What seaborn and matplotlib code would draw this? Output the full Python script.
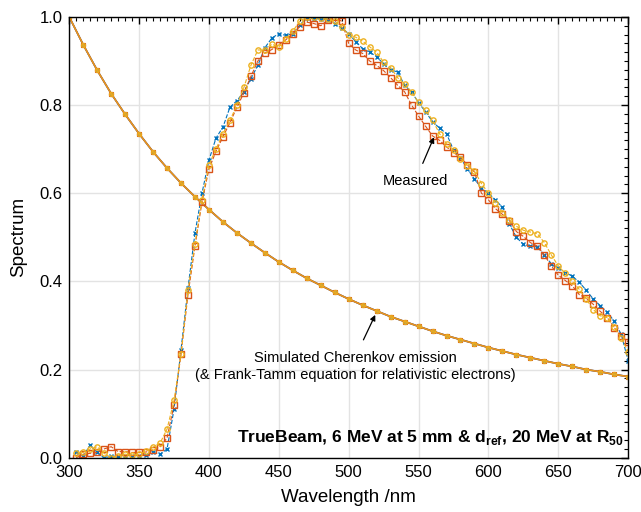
import numpy as np
import pandas as pd
import matplotlib
matplotlib.use("Agg")
import matplotlib.pyplot as plt
from matplotlib.ticker import MultipleLocator
import seaborn as sns

# Measured spectra, 5 nm steps
wavelength = list(range(305, 701, 5))

blue_meas = [0.012, 0.005, 0.028, 0.012, 0.0, 0.003, 0.004, 0.005, 0.005, 0.005,
             0.006, 0.012, 0.008, 0.02, 0.11, 0.245, 0.385, 0.51, 0.6, 0.675,
             0.725, 0.75, 0.795, 0.81, 0.83, 0.86, 0.89, 0.93, 0.952, 0.962,
             0.958, 0.962, 0.982, 0.997, 0.996, 0.995, 0.993, 0.985, 0.975, 0.962,
             0.944, 0.928, 0.92, 0.91, 0.893, 0.88, 0.875, 0.845, 0.83, 0.805,
             0.785, 0.762, 0.748, 0.735, 0.698, 0.68, 0.655, 0.632, 0.612, 0.6,
             0.585, 0.568, 0.53, 0.5, 0.484, 0.48, 0.478, 0.46, 0.44, 0.43,
             0.42, 0.412, 0.398, 0.38, 0.36, 0.345, 0.33, 0.31, 0.28, 0.22]

red_meas = [0.0, 0.008, 0.01, 0.012, 0.02, 0.025, 0.014, 0.014, 0.012, 0.012,
            0.013, 0.017, 0.025, 0.045, 0.12, 0.235, 0.37, 0.48, 0.58, 0.655,
            0.695, 0.728, 0.76, 0.795, 0.828, 0.865, 0.9, 0.918, 0.926, 0.937,
            0.948, 0.962, 0.978, 0.988, 0.985, 0.98, 0.993, 1.0, 0.99, 0.94,
            0.925, 0.917, 0.9, 0.89, 0.878, 0.862, 0.845, 0.83, 0.8, 0.775,
            0.752, 0.73, 0.72, 0.705, 0.692, 0.682, 0.664, 0.648, 0.6, 0.585,
            0.565, 0.552, 0.538, 0.513, 0.502, 0.488, 0.48, 0.46, 0.435, 0.414,
            0.402, 0.39, 0.37, 0.362, 0.348, 0.332, 0.318, 0.295, 0.276, 0.263]

yellow_meas = [0.01, 0.012, 0.02, 0.025, 0.01, 0.0, 0.005, 0.008, 0.006, 0.008,
               0.015, 0.024, 0.033, 0.065, 0.13, 0.235, 0.38, 0.485, 0.585, 0.665,
               0.7, 0.735, 0.765, 0.8, 0.84, 0.89, 0.925, 0.925, 0.938, 0.932,
               0.95, 0.968, 0.99, 0.999, 1.0, 0.998, 0.995, 0.99, 0.977, 0.96,
               0.954, 0.945, 0.932, 0.92, 0.897, 0.885, 0.862, 0.848, 0.83, 0.806,
               0.788, 0.766, 0.735, 0.712, 0.698, 0.678, 0.662, 0.65, 0.622, 0.6,
               0.578, 0.556, 0.54, 0.525, 0.516, 0.512, 0.508, 0.488, 0.46, 0.435,
               0.418, 0.4, 0.382, 0.36, 0.336, 0.322, 0.318, 0.296, 0.272, 0.24]

# Simulated Cherenkov emission, 10 nm steps
sim_wavelength = list(range(300, 701, 10))
sim_spectrum = [1.000, 0.937, 0.879, 0.826, 0.779, 0.735, 0.694, 0.657, 0.623, 0.592,
                0.563, 0.535, 0.510, 0.487, 0.465, 0.444, 0.425, 0.407, 0.391, 0.375,
                0.360, 0.346, 0.333, 0.320, 0.309, 0.298, 0.287, 0.277, 0.268, 0.259,
                0.250, 0.242, 0.234, 0.227, 0.220, 0.213, 0.207, 0.200, 0.195, 0.189,
                0.184]

c_blue, c_red, c_yellow = "#0072BD", "#D95319", "#EDB120"

sns.set_theme(style="white")
plt.rcParams["font.family"] = ["Liberation Sans", "DejaVu Sans"]
plt.rcParams["mathtext.fontset"] = "custom"
plt.rcParams["mathtext.rm"] = "Liberation Sans"
plt.rcParams["mathtext.bf"] = "Liberation Sans:bold"
plt.rcParams["text.color"] = "black"
plt.rcParams["axes.labelcolor"] = "black"

fig, ax = plt.subplots(figsize=(6.41, 5.12), dpi=100)
fig.subplots_adjust(left=0.108, right=0.98, top=0.967, bottom=0.106)

df = pd.DataFrame({"wl": wavelength, "blue": blue_meas, "red": red_meas, "yellow": yellow_meas})
sim = pd.DataFrame({"wl": sim_wavelength, "s": sim_spectrum})

# simulated curve (three overlaid series)
sns.lineplot(data=sim, x="wl", y="s", ax=ax, color=c_blue, lw=1.2, marker="x",
             markersize=3, markeredgecolor=c_blue, markeredgewidth=0.8)
sns.lineplot(data=sim, x="wl", y="s", ax=ax, color=c_red, lw=1.2, marker="s",
             markersize=3, markeredgecolor=c_red, markerfacecolor="none", markeredgewidth=0.8)
sns.lineplot(data=sim, x="wl", y="s", ax=ax, color=c_yellow, lw=1.0, alpha=0.75, marker="o",
             markersize=3.2, markeredgecolor=c_yellow, markerfacecolor=c_yellow, markeredgewidth=0.8)

# measured spectra
sns.lineplot(data=df, x="wl", y="blue", ax=ax, color=c_blue, lw=0.8, ls="--", marker="x",
             markersize=3.5, markeredgecolor=c_blue, markeredgewidth=1.0)
sns.lineplot(data=df, x="wl", y="red", ax=ax, color=c_red, lw=0.8, ls="--", marker="s",
             markersize=3.8, markeredgecolor=c_red, markerfacecolor="none", markeredgewidth=1.0)
sns.lineplot(data=df, x="wl", y="yellow", ax=ax, color=c_yellow, lw=0.8, ls="--", marker="o",
             markersize=3.8, markeredgecolor=c_yellow, markerfacecolor="none", markeredgewidth=1.0)

ax.set_xlim(300, 700)
ax.set_ylim(0, 1.0)
ax.xaxis.set_major_locator(MultipleLocator(50))
ax.xaxis.set_minor_locator(MultipleLocator(5))
ax.yaxis.set_major_locator(MultipleLocator(0.2))
ax.yaxis.set_minor_locator(MultipleLocator(0.02))
ax.yaxis.set_major_formatter(plt.FormatStrFormatter("%.1f"))
ax.tick_params(which="both", direction="in", top=True, right=True, colors="black",
               labelsize=12)
ax.tick_params(axis="x", which="major", pad=5)
ax.tick_params(axis="y", which="major", pad=5)
ax.tick_params(which="major", length=5, width=1)
ax.tick_params(which="minor", length=3, width=0.8)
ax.grid(True, which="major", color="#E3E3E3", lw=1)
ax.set_axisbelow(True)
for s in ax.spines.values():
    s.set_color("black")
    s.set_linewidth(1)

ax.set_xlabel("Wavelength /nm", fontsize=13.5, labelpad=7)
ax.set_ylabel("Spectrum", fontsize=13.5, labelpad=9)

ax.annotate("Measured", xy=(561, 0.727), xytext=(547.5, 0.627),
            ha="center", va="center", fontsize=10.5,
            arrowprops=dict(arrowstyle="-|>", color="black", lw=0.9, mutation_scale=8,
                            shrinkA=6, shrinkB=0))
ax.annotate("Simulated Cherenkov emission", xy=(519, 0.324), xytext=(504.5, 0.227),
            ha="center", va="center", fontsize=10.5,
            arrowprops=dict(arrowstyle="-|>", color="black", lw=0.9, mutation_scale=8,
                            shrinkA=6, shrinkB=0))
ax.text(504.5, 0.188, "(& Frank-Tamm equation for relativistic electrons)",
        ha="center", va="center", fontsize=10.5)
ax.text(697, 0.045, r"TrueBeam, 6 MeV at 5 mm & d$_\mathbf{ref}$, 20 MeV at R$_\mathbf{50}$",
        ha="right", va="center", fontsize=12.5, fontweight="bold")

fig.savefig("out.png", dpi=100)
